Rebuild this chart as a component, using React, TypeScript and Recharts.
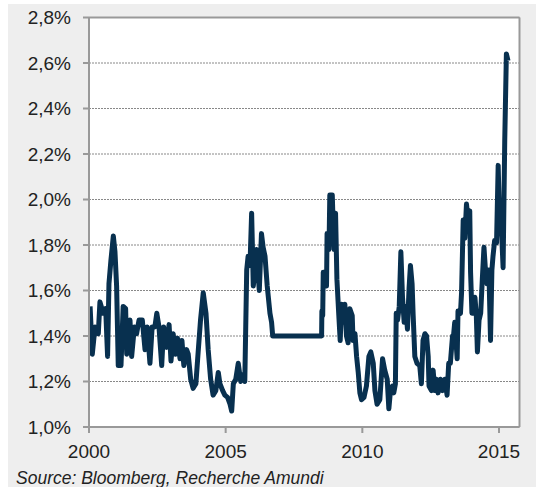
import React from "react";
import {
  LineChart,
  Line,
  XAxis,
  YAxis,
  CartesianGrid,
  ReferenceLine,
} from "recharts";

// decimal years
const years = [
  2000.04, 2000.12, 2000.22, 2000.34, 2000.4, 2000.52, 2000.61, 2000.68, 2000.73, 2000.8,
  2000.89, 2000.95, 2001.01, 2001.07, 2001.17, 2001.25, 2001.34, 2001.38, 2001.46, 2001.5,
  2001.56, 2001.66, 2001.74, 2001.83, 2001.95, 2002.05, 2002.13, 2002.23, 2002.31, 2002.41,
  2002.48, 2002.56, 2002.66, 2002.73, 2002.84, 2002.93, 2003.0, 2003.08, 2003.17, 2003.24,
  2003.33, 2003.4, 2003.47, 2003.57, 2003.63, 2003.72, 2003.81, 2003.91, 2004.0, 2004.08,
  2004.18, 2004.28, 2004.36, 2004.45, 2004.54, 2004.64, 2004.73, 2004.79, 2004.89, 2004.97,
  2005.07, 2005.16, 2005.22, 2005.28, 2005.37, 2005.46, 2005.55, 2005.64, 2005.7, 2005.77,
  2005.82, 2005.89, 2005.95, 2006.01, 2006.07, 2006.13, 2006.23, 2006.31, 2006.37, 2006.44,
  2006.52, 2006.62, 2006.68, 2006.72, 2008.51, 2008.52, 2008.55, 2008.57, 2008.63, 2008.69,
  2008.71, 2008.78, 2008.81, 2008.9, 2008.93, 2008.97, 2009.02, 2009.07, 2009.14, 2009.19,
  2009.24, 2009.31, 2009.36, 2009.42, 2009.48, 2009.54, 2009.63, 2009.66, 2009.73, 2009.79,
  2009.85, 2009.91, 2009.97, 2010.06, 2010.15, 2010.24, 2010.31, 2010.4, 2010.46, 2010.54,
  2010.64, 2010.74, 2010.82, 2010.91, 2010.97, 2011.03, 2011.1, 2011.15, 2011.21, 2011.24,
  2011.29, 2011.35, 2011.41, 2011.47, 2011.53, 2011.59, 2011.65, 2011.71, 2011.76, 2011.82,
  2011.86, 2011.92, 2012.0, 2012.1, 2012.16, 2012.22, 2012.29, 2012.35, 2012.41, 2012.44,
  2012.53, 2012.59, 2012.65, 2012.71, 2012.77, 2012.86, 2012.93, 2013.02, 2013.1, 2013.16,
  2013.22, 2013.3, 2013.32, 2013.38, 2013.47, 2013.5, 2013.59, 2013.63, 2013.69, 2013.75,
  2013.81, 2013.87, 2013.93, 2013.96, 2014.01, 2014.07, 2014.12, 2014.17, 2014.21, 2014.27,
  2014.33, 2014.39, 2014.45, 2014.51, 2014.56, 2014.63, 2014.69, 2014.74, 2014.78, 2014.84,
  2014.91, 2014.97, 2015.03, 2015.09, 2015.15, 2015.21, 2015.27, 2015.33,
];

// rate in %
const rates = [
  1.53, 1.32, 1.44, 1.41, 1.55, 1.5, 1.52, 1.31, 1.63, 1.73,
  1.84, 1.77, 1.62, 1.27, 1.27, 1.53, 1.52, 1.32, 1.35, 1.47,
  1.31, 1.44, 1.41, 1.47, 1.47, 1.34, 1.44, 1.28, 1.44, 1.44,
  1.5, 1.44, 1.27, 1.44, 1.35, 1.45, 1.29, 1.41, 1.32, 1.39,
  1.3, 1.38, 1.27, 1.34, 1.32, 1.21, 1.17, 1.19, 1.34, 1.47,
  1.59, 1.5, 1.34, 1.21, 1.14, 1.16, 1.24, 1.19, 1.16, 1.14,
  1.13, 1.1, 1.07, 1.19, 1.21, 1.28, 1.2, 1.23, 1.2, 1.69,
  1.75, 1.71, 1.94, 1.62, 1.68, 1.78, 1.6, 1.85, 1.79, 1.75,
  1.62, 1.5, 1.46, 1.4, 1.4, 1.51, 1.49, 1.68, 1.68, 1.62,
  1.85, 1.78, 2.02, 2.02, 1.9, 1.78, 1.94, 1.65, 1.49, 1.38,
  1.54, 1.46, 1.54, 1.4, 1.37, 1.52, 1.49, 1.38, 1.41, 1.31,
  1.24, 1.15, 1.12, 1.13, 1.18, 1.31, 1.33, 1.28, 1.16, 1.1,
  1.12, 1.3, 1.25, 1.21, 1.08, 1.16, 1.18, 1.15, 1.19, 1.5,
  1.47, 1.53, 1.77, 1.57, 1.46, 1.53, 1.43, 1.61, 1.71, 1.63,
  1.49, 1.31, 1.28, 1.27, 1.19, 1.38, 1.41, 1.4, 1.31, 1.18,
  1.16, 1.25, 1.16, 1.21, 1.15, 1.21, 1.16, 1.21, 1.14, 1.28,
  1.28, 1.4, 1.38, 1.46, 1.3, 1.51, 1.5, 1.59, 1.91, 1.83,
  1.98, 1.91, 1.95, 1.68, 1.5, 1.5, 1.57, 1.49, 1.33, 1.47,
  1.5, 1.65, 1.79, 1.68, 1.63, 1.69, 1.38, 1.69, 1.75, 1.82,
  1.81, 2.15, 1.85, 1.87, 1.7, 2.26, 2.64, 2.61,
];

const yearTicks = [2000, 2005, 2010, 2015];
const rateTicks = [1.0, 1.2, 1.4, 1.6, 1.8, 2.0, 2.2, 2.4, 2.6, 2.8];

const data = years.map((year, i) => ({ year, rate: rates[i] }));

const fmtRate = (v: number) => v.toFixed(1).replace(".", ",") + "%";

const tickStyle = { fontSize: 19, fill: "#222", fontFamily: "Liberation Sans, Arial, sans-serif" };

const App = () => {
  return (
    <div style={{ position: "absolute", left: 0, top: 0, width: 536, height: 487, background: "#fff" }}>
      <div style={{ position: "absolute", left: 8, top: 4, width: 528, height: 483, background: "#eeeeee" }}>
        <LineChart
          width={528}
          height={483}
          data={data}
          margin={{ top: 13.5, right: 16.5, left: 0, bottom: 0 }}
        >
          <CartesianGrid
            vertical={false}
            fill="#fff"
            stroke="#888"
            strokeDasharray="2 1"
          />
          <XAxis
            dataKey="year"
            type="number"
            domain={[2000, 2015.75]}
            allowDataOverflow
            ticks={yearTicks}
            height={60}
            tickSize={6}
            tickMargin={12}
            stroke="#999"
            strokeWidth={2}
            tick={tickStyle}
          />
          <YAxis
            domain={[1.0, 2.8]}
            ticks={rateTicks}
            tickFormatter={fmtRate}
            width={81}
            tickSize={6}
            tickMargin={12}
            stroke="#999"
            strokeWidth={2}
            tick={tickStyle}
          />
          <ReferenceLine y={2.8} stroke="#999" strokeWidth={2} />
          <ReferenceLine x={2015.75} stroke="#999" strokeWidth={2} />
          <Line
            type="linear"
            dataKey="rate"
            stroke="#08304f"
            strokeWidth={5}
            strokeLinejoin="round"
            dot={false}
            isAnimationActive={false}
          />
        </LineChart>
        <div
          style={{
            position: "absolute",
            left: 8,
            top: 464,
            fontSize: 17.5,
            fontStyle: "italic",
            color: "#222",
            fontFamily: "Liberation Sans, Arial, sans-serif",
          }}
        >
          Source: Bloomberg, Recherche Amundi
        </div>
      </div>
    </div>
  );
};

export default App;
